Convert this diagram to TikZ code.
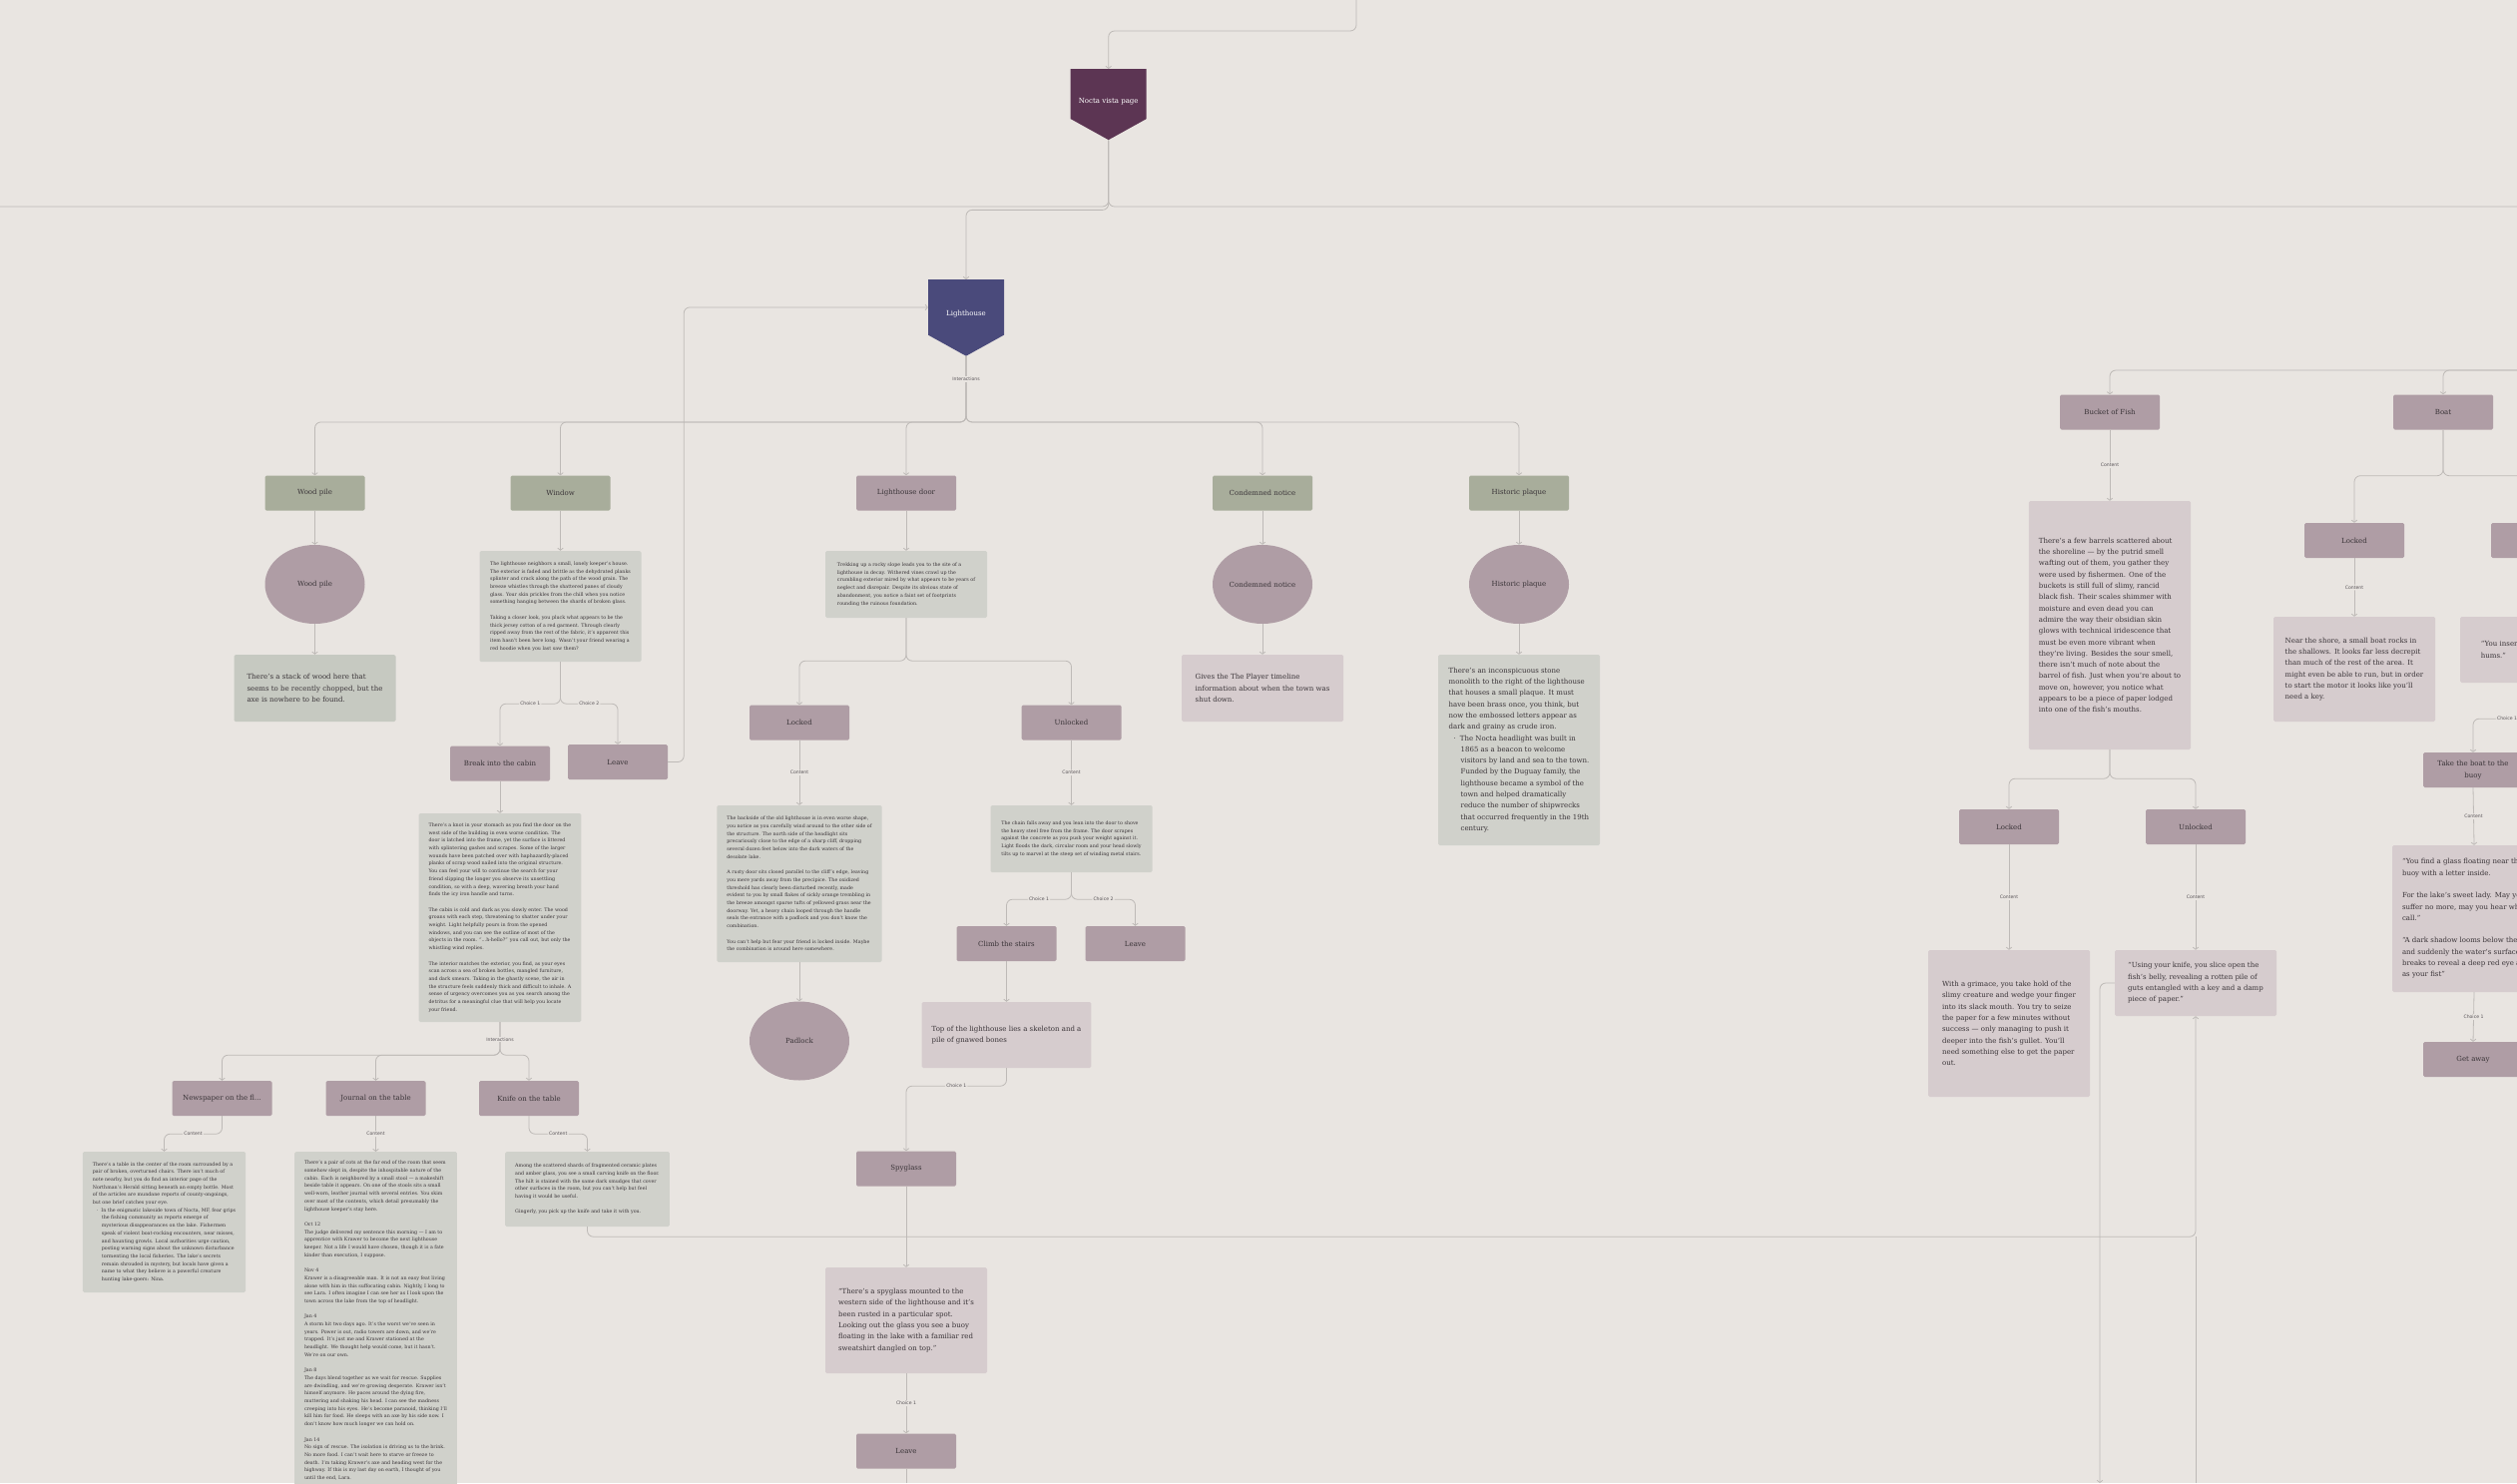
\documentclass[tikz,border=0pt]{standalone}
\usepackage{fontspec}
\setmainfont{DejaVu Serif}
\setsansfont{DejaVu Sans}
\usetikzlibrary{shapes.geometric, shapes.symbols, arrows.meta, positioning, calc}
\definecolor{bgcol}{RGB}{233, 229, 225}
\definecolor{noctacol}{RGB}{92, 53, 83}
\definecolor{lhcol}{RGB}{74, 74, 123}
\definecolor{greencol}{RGB}{168, 173, 155}
\definecolor{mauvecol}{RGB}{175, 157, 165}
\definecolor{graycol}{RGB}{208, 209, 203}
\definecolor{woodcol}{RGB}{198, 201, 193}
\definecolor{pinkcol}{RGB}{214, 204, 206}
\definecolor{linecol}{RGB}{190, 186, 183}
\definecolor{inkcol}{RGB}{58, 52, 56}

\begin{document}
\begin{tikzpicture}[x=100pt, y=-100pt,
  >={Straight Barb[length=2.2pt, width=5.6pt]},
  shield/.style={signal, signal to=south, signal pointer angle=122, fill=#1, text=white,
    minimum width=76pt, minimum height=67pt, inner sep=1pt, anchor=north,
    text height=18pt, text depth=0pt, font=\fontsize{7}{9}\selectfont},
  box/.style={rectangle, rounded corners=1.5pt, fill=#1, minimum width=100pt, minimum height=35pt,
    inner sep=2pt, text=inkcol, align=center, font=\fontsize{7}{11.3}\selectfont},
  blob/.style={ellipse, fill=mauvecol, minimum width=100pt, minimum height=79pt, inner sep=0pt,
    text=inkcol, font=\fontsize{7}{11.3}\selectfont},
  note/.style={rectangle, rounded corners=1.5pt, fill=#1, minimum width=162pt, inner xsep=10pt,
    inner ysep=6pt, align=left, text=inkcol},
  bigtxt/.style={font=\fontsize{7}{11.3}\selectfont},
  smalltxt/.style={font=\fontsize{4.8}{7.7}\selectfont},
  link/.style={draw=linecol, line width=0.8pt, rounded corners=6pt, ->},
  wire/.style={draw=linecol, line width=0.8pt, rounded corners=6pt},
  lbl/.style={fill=bgcol, inner sep=1.2pt, text=inkcol!85, font=\sffamily\fontsize{4.6}{5}\selectfont}]

  % ---- Canvas ----
  \useasboundingbox (0, 0) rectangle (25.22, 14.86);
  \fill[bgcol] (0, 0) rectangle (25.22, 14.86);
  \clip (0, 0) rectangle (25.22, 14.86);

  % ---- Nocta vista page ----
  \coordinate (topin) at (13.59, 0);
  \coordinate (leftout) at (0, 2.07);
  \coordinate (rightout) at (25.22, 2.07);
  \node[shield=noctacol] (nocta) at (11.107, 0.69) {Nocta vista page};
  \node[shield=lhcol] (lighthouse) at (9.68, 2.80) {Lighthouse};
  \draw[link] (topin) -- ++(0, 0.31) -| (nocta.north);
  \draw[wire] (nocta.south) |- (leftout);
  \draw[wire] (nocta.south) |- (rightout);
  \draw[link] (nocta.south) -- ++(0, 0.70) -| (lighthouse.north);

  % ---- Lighthouse interactions ----
  \node[box=greencol] (woodpile) at (3.155, 4.94) {Wood pile};
  \node[box=greencol] (window) at (5.615, 4.94) {Window};
  \node[box=mauvecol] (ldoor) at (9.08, 4.94) {Lighthouse door};
  \node[box=greencol] (condemned) at (12.65, 4.94) {Condemned notice};
  \node[box=greencol] (plaque) at (15.22, 4.94) {Historic plaque};
  \foreach \n in {woodpile, window, ldoor, condemned, plaque}
    \draw[link] (lighthouse.south) -- ++(0, 0.66) -| (\n.north);
  \node[lbl] (lhlbl) at (9.68, 3.80) {Interactions};

  % ---- Wood pile, notice, plaque ----
  \node[blob] (woodell) at (3.155, 5.855) {Wood pile};
  \node[blob] (condell) at (12.65, 5.855) {Condemned notice};
  \node[blob] (plaqueell) at (15.22, 5.855) {Historic plaque};
  \node[note=woodcol, bigtxt, minimum height=67pt] (woodtxt) at (3.155, 6.895)
    {There’s a stack of wood here that\\seems to be recently chopped, but the\\axe is nowhere to be found.};
  \node[note=pinkcol, bigtxt, minimum height=67pt] (condtxt) at (12.65, 6.895)
    {Gives the The Player timeline\\information about when the town was\\shut down.};
  \node[note=graycol, bigtxt, minimum height=191pt] (plaquetxt) at (15.22, 7.515)
    {There’s an inconspicuous stone\\monolith to the right of the lighthouse\\that houses a small plaque. It must\\have been brass once, you think, but\\now the embossed letters appear as\\dark and grainy as crude iron.\\
     \hspace*{5pt}·\hspace*{4pt}The Nocta headlight was built in\\\hspace*{12pt}1865 as a beacon to welcome\\\hspace*{12pt}visitors by land and sea to the town.\\\hspace*{12pt}Funded by the Duguay family, the\\\hspace*{12pt}lighthouse became a symbol of the\\\hspace*{12pt}town and helped dramatically\\\hspace*{12pt}reduce the number of shipwrecks\\\hspace*{12pt}that occurred frequently in the 19th\\\hspace*{12pt}century.};
  \draw[link] (woodpile.south) -- (woodell.north);
  \draw[link] (woodell.south) -- (woodtxt.north);
  \draw[link] (condemned.south) -- (condell.north);
  \draw[link] (condell.south) -- (condtxt.north);
  \draw[link] (plaque.south) -- (plaqueell.north);
  \draw[link] (plaqueell.south) -- (plaquetxt.north);

  % ---- Window ----
  \node[note=graycol, smalltxt, minimum height=111pt] (windowtxt) at (5.615, 6.075)
    {The lighthouse neighbors a small, lonely keeper’s house.\\The exterior is faded and brittle as the dehydrated planks\\splinter and crack along the path of the wood grain. The\\breeze whistles through the shattered panes of cloudy\\glass. Your skin prickles from the chill when you notice\\something hanging between the shards of broken glass.\\[7.7pt]
     Taking a closer look, you pluck what appears to be the\\thick jersey cotton of a red garment. Through clearly\\ripped away from the rest of the fabric, it’s apparent this\\item hasn’t been here long. Wasn’t your friend wearing a\\red hoodie when you last saw them?};
  \node[box=mauvecol] (cabin) at (5.01, 7.65) {Break into the cabin};
  \node[box=mauvecol] (leave1) at (6.19, 7.635) {Leave};
  \draw[link] (window.south) -- (windowtxt.north);
  \draw[link] (windowtxt.south) -- ++(0, 0.42) -| node[lbl, pos=0.25] {Choice 1} (cabin.north);
  \draw[link] (windowtxt.south) -- ++(0, 0.42) -| node[lbl, pos=0.25] {Choice 2} (leave1.north);
  \draw[link] (leave1.east) -- ++(0.16, 0) |- (lighthouse.west);

  % ---- Cabin ----
  \node[note=graycol, smalltxt, minimum height=209pt] (cabintxt) at (5.01, 9.195)
    {There’s a knot in your stomach as you find the door on the\\west side of the building in even worse condition. The\\door is latched into the frame, yet the surface is littered\\with splintering gashes and scrapes. Some of the larger\\wounds have been patched over with haphazardly-placed\\planks of scrap wood nailed into the original structure.\\You can feel your will to continue the search for your\\friend slipping the longer you observe its unsettling\\condition, so with a deep, wavering breath your hand\\finds the icy iron handle and turns.\\[7.7pt]
     The cabin is cold and dark as you slowly enter. The wood\\groans with each step, threatening to shatter under your\\weight. Light helpfully pours in from the opened\\windows, and you can see the outline of most of the\\objects in the room. “...h-hello?” you call out, but only the\\whistling wind replies.\\[7.7pt]
     The interior matches the exterior, you find, as your eyes\\scan across a sea of broken bottles, mangled furniture,\\and dark smears. Taking in the ghastly scene, the air in\\the structure feels suddenly thick and difficult to inhale. A\\sense of urgency overcomes you as you search among the\\detritus for a meaningful clue that will help you locate\\your friend.};
  \draw[link] (cabin.south) -- (cabintxt.north);
  \node[box=mauvecol] (newspaper) at (2.225, 11.005) {Newspaper on the fl...};
  \node[box=mauvecol] (journal) at (3.765, 11.005) {Journal on the table};
  \node[box=mauvecol] (knife) at (5.30, 11.005) {Knife on the table};
  \foreach \n in {newspaper, journal, knife}
    \draw[link] (cabintxt.south) -- ++(0, 0.33) -| (\n.north);
  \node[lbl] (cabinlbl) at (5.01, 10.415) {Interactions};

  \node[note=graycol, smalltxt, minimum height=141pt] (newstxt) at (1.645, 12.245)
    {There’s a table in the center of the room surrounded by a\\pair of broken, overturned chairs. There isn’t much of\\note nearby, but you do find an interior page of the\\Northman’s Herald sitting beneath an empty bottle. Most\\of the articles are mundane reports of county-ongoings,\\but one brief catches your eye.\\
     \hspace*{4pt}·\hspace*{3pt}In the enigmatic lakeside town of Nocta, MF, fear grips\\\hspace*{9pt}the fishing community as reports emerge of\\\hspace*{9pt}mysterious disappearances on the lake. Fishermen\\\hspace*{9pt}speak of violent boat-rocking encounters, near misses,\\\hspace*{9pt}and haunting growls. Local authorities urge caution,\\\hspace*{9pt}posting warning signs about the unknown disturbance\\\hspace*{9pt}tormenting the local fisheries. The lake’s secrets\\\hspace*{9pt}remain shrouded in mystery, but locals have given a\\\hspace*{9pt}name to what they believe is a powerful creature\\\hspace*{9pt}hunting lake-goers: Nina.};
  \node[note=graycol, smalltxt, anchor=north, inner ysep=9pt] (journaltxt) at (3.765, 11.54)
    {There’s a pair of cots at the far end of the room that seem\\somehow slept in, despite the inhospitable nature of the\\cabin. Each is neighbored by a small stool — a makeshift\\beside table it appears. On one of the stools sits a small\\well-worn, leather journal with several entries. You skim\\over most of the contents, which detail presumably the\\lighthouse keeper’s stay here.\\[7.7pt]
     Oct 12\\The judge delivered my sentence this morning — I am to\\apprentice with Krawer to become the next lighthouse\\keeper. Not a life I would have chosen, though it is a fate\\kinder than execution, I suppose.\\[7.7pt]
     Nov 4\\Krawer is a disagreeable man. It is not an easy feat living\\alone with him in this suffocating cabin. Nightly, I long to\\see Lara. I often imagine I can see her as I look upon the\\town across the lake from the top of headlight.\\[7.7pt]
     Jan 4\\A storm hit two days ago. It’s the worst we’ve seen in\\years. Power is out, radio towers are down, and we’re\\trapped. It’s just me and Krawer stationed at the\\headlight. We thought help would come, but it hasn’t.\\We’re on our own.\\[7.7pt]
     Jan 8\\The days blend together as we wait for rescue. Supplies\\are dwindling, and we’re growing desperate. Krawer isn’t\\himself anymore. He paces around the dying fire,\\muttering and shaking his head. I can see the madness\\creeping into his eyes. He’s become paranoid, thinking I’ll\\kill him for food. He sleeps with an axe by his side now. I\\don’t know how much longer we can hold on.\\[7.7pt]
     Jan 14\\No sign of rescue. The isolation is driving us to the brink.\\No more food. I can’t wait here to starve or freeze to\\death. I’m taking Krawer’s axe and heading west for the\\highway. If this is my last day on earth, I thought of you\\until the end, Lara.};
  \node[note=graycol, smalltxt, minimum height=75pt] (knifetxt) at (5.885, 11.915)
    {Among the scattered shards of fragmented ceramic plates\\and amber glass, you see a small carving knife on the floor.\\The hilt is stained with the same dark smudges that cover\\other surfaces in the room, but you can’t help but feel\\having it would be useful.\\[7.7pt]
     Gingerly, you pick up the knife and take it with you.};
  \draw[link] (newspaper.south) -- ++(0, 0.18) -| node[lbl, pos=0.25] {Content} (newstxt.north);
  \draw[link] (journal.south) -- node[lbl] {Content} (journaltxt.north);
  \draw[link] (knife.south) -- ++(0, 0.18) -| node[lbl, pos=0.25] {Content} (knifetxt.north);

  % ---- Lighthouse door ----
  \node[note=graycol, smalltxt, minimum height=67pt] (doortxt) at (9.08, 5.855)
    {Trekking up a rocky slope leads you to the site of a\\lighthouse in decay. Withered vines crawl up the\\crumbling exterior mired by what appears to be years of\\neglect and disrepair. Despite its obvious state of\\abandonment, you notice a faint set of footprints\\rounding the ruinous foundation.};
  \node[box=mauvecol] (locked) at (8.01, 7.24) {Locked};
  \node[box=mauvecol] (unlocked) at (10.735, 7.24) {Unlocked};
  \draw[link] (ldoor.south) -- (doortxt.north);
  \draw[link] (doortxt.south) -- ++(0, 0.43) -| (locked.north);
  \draw[link] (doortxt.south) -- ++(0, 0.43) -| (unlocked.north);
  \node[note=graycol, smalltxt, minimum height=157pt] (locktxt) at (8.01, 8.855)
    {The backside of the old lighthouse is in even worse shape,\\you notice as you carefully wind around to the other side of\\the structure. The north side of the headlight sits\\precariously close to the edge of a sharp cliff, dropping\\several dozen feet below into the dark waters of the\\desolate lake.\\[7.7pt]
     A rusty door sits closed parallel to the cliff’s edge, leaving\\you mere yards away from the precipice. The oxidized\\threshold has clearly been disturbed recently, made\\evident to you by small flakes of sickly orange trembling in\\the breeze amongst sparse tufts of yellowed grass near the\\doorway. Yet, a heavy chain looped through the handle\\seals the entrance with a padlock and you don’t know the\\combination.\\[7.7pt]
     You can’t help but fear your friend is locked inside. Maybe\\the combination is around here somewhere.};
  \node[note=graycol, smalltxt, minimum height=67pt] (unlocktxt) at (10.735, 8.405)
    {The chain falls away and you lean into the door to shove\\the heavy steel free from the frame. The door scrapes\\against the concrete as you push your weight against it.\\Light floods the dark, circular room and your head slowly\\tilts up to marvel at the steep set of winding metal stairs.};
  \draw[link] (locked.south) -- node[lbl] {Content} (locktxt.north);
  \draw[link] (unlocked.south) -- node[lbl] {Content} (unlocktxt.north);
  \node[blob] (padlock) at (8.01, 10.43) {Padlock};
  \draw[link] (locktxt.south) -- (padlock.north);

  \node[box=mauvecol] (climb) at (10.085, 9.455) {Climb the stairs};
  \node[box=mauvecol] (leave2) at (11.375, 9.455) {Leave};
  \draw[link] (unlocktxt.south) -- ++(0, 0.27) -| node[lbl, pos=0.25] {Choice 1} (climb.north);
  \draw[link] (unlocktxt.south) -- ++(0, 0.27) -| node[lbl, pos=0.25] {Choice 2} (leave2.north);
  \node[note=pinkcol, bigtxt, minimum height=66pt] (toptxt) at (10.085, 10.37)
    {Top of the lighthouse lies a skeleton and a\\pile of gnawed bones};
  \draw[link] (climb.south) -- (toptxt.north);

  % ---- Spyglass ----
  \node[box=mauvecol] (spyglass) at (9.08, 11.71) {Spyglass};
  \node[note=pinkcol, bigtxt, minimum height=106pt] (spytxt) at (9.08, 13.23)
    {“There’s a spyglass mounted to the\\western side of the lighthouse and it’s\\been rusted in a particular spot.\\Looking out the glass you see a buoy\\floating in the lake with a familiar red\\sweatshirt dangled on top.”};
  \node[box=mauvecol] (leave3) at (9.08, 14.54) {Leave};
  \coordinate (out3) at (9.08, 14.86);
  \draw[link] (toptxt.south) -- ++(0, 0.18) -| node[lbl, pos=0.25] {Choice 1} (spyglass.north);

  % ---- Bucket of fish ----
  \coordinate (rin) at (25.22, 3.71);
  \node[box=mauvecol] (fish) at (21.14, 4.13) {Bucket of Fish};
  \node[box=mauvecol] (boat) at (24.48, 4.13) {Boat};
  \draw[link] (rin) -| (fish.north);
  \draw[link] (rin) -| (boat.north);
  \node[note=pinkcol, bigtxt, minimum height=249pt] (fishtxt) at (21.14, 6.265)
    {There’s a few barrels scattered about\\the shoreline — by the putrid smell\\wafting out of them, you gather they\\were used by fishermen. One of the\\buckets is still full of slimy, rancid\\black fish. Their scales shimmer with\\moisture and even dead you can\\admire the way their obsidian skin\\glows with technical iridescence that\\must be even more vibrant when\\they’re living. Besides the sour smell,\\there isn’t much of note about the\\barrel of fish. Just when you’re about to\\move on, however, you notice what\\appears to be a piece of paper lodged\\into one of the fish’s mouths.};
  \draw[link] (fish.south) -- node[lbl] {Content} (fishtxt.north);
  \node[box=mauvecol] (fishlocked) at (20.13, 8.285) {Locked};
  \node[box=mauvecol] (fishunlocked) at (22.00, 8.285) {Unlocked};
  \draw[link] (fishtxt.south) -- ++(0, 0.29) -| (fishlocked.north);
  \draw[link] (fishtxt.south) -- ++(0, 0.29) -| (fishunlocked.north);
  \node[note=pinkcol, bigtxt, minimum height=147pt] (fishlocktxt) at (20.13, 10.255)
    {With a grimace, you take hold of the\\slimy creature and wedge your finger\\into its slack mouth. You try to seize\\the paper for a few minutes without\\success — only managing to push it\\deeper into the fish’s gullet. You’ll\\need something else to get the paper\\out.};
  \node[note=pinkcol, bigtxt, minimum height=66pt] (fishunlocktxt) at (22.00, 9.85)
    {“Using your knife, you slice open the\\fish’s belly, revealing a rotten pile of\\guts entangled with a key and a damp\\piece of paper.”};
  \draw[link] (fishlocked.south) -- node[lbl] {Content} (fishlocktxt.north);
  \draw[link] (fishunlocked.south) -- node[lbl] {Content} (fishunlocktxt.north);
  \coordinate (out5) at (21.04, 14.86);
  \coordinate (out6) at (22.00, 14.86);
  \coordinate (knifejoin) at (22.00, 12.39);
  \draw[link] (fishunlocktxt.west) -| (out5);
  \draw[wire] (out6) -- (knifejoin);
  \draw[link] (knifetxt.south) -- ++(0, 0.10) -| (fishunlocktxt.south);
  \draw[link] (spyglass.south) -- (spytxt.north);
  \draw[link] (spytxt.south) -- node[lbl] {Choice 1} (leave3.north);
  \draw[wire] (leave3.south) -- (out3);

  % ---- Boat ----
  \node[box=mauvecol] (boatlocked) at (23.59, 5.415) {Locked};
  \node[box=mauvecol] (boatunlocked) at (25.46, 5.415) {};
  \draw[link] (boat.south) -- ++(0, 0.46) -| (boatlocked.north);
  \draw[link] (boat.south) -- ++(0, 0.46) -| (boatunlocked.north);
  \node[note=pinkcol, bigtxt, minimum height=105pt] (boatlocktxt) at (23.59, 6.705)
    {Near the shore, a small boat rocks in\\the shallows. It looks far less decrepit\\than much of the rest of the area. It\\might even be able to run, but in order\\to start the motor it looks like you’ll\\need a key.};
  \node[note=pinkcol, bigtxt, minimum height=66pt] (boatunlocktxt) at (25.46, 6.51)
    {“You insert the key and the motor\\hums.”};
  \draw[link] (boatlocked.south) -- node[lbl] {Content} (boatlocktxt.north);
  \draw[link] (boatunlocked.south) -- (boatunlocktxt.north);
  \node[box=mauvecol] (takeboat) at (24.78, 7.715) {Take the boat to the\\buoy};
  \draw[link] (boatunlocktxt.south) -- ++(0, 0.36) -| node[lbl, pos=0.25] {Choice 1} (takeboat.north);
  \node[note=pinkcol, bigtxt, minimum height=147pt] (buoytxt) at (24.79, 9.205)
    {“You find a glass floating near the\\buoy with a letter inside.\\[11.3pt]
     For the lake’s sweet lady. May you\\suffer no more, may you hear when I\\call.”\\[11.3pt]
     “A dark shadow looms below the surface\\and suddenly the water’s surface\\breaks to reveal a deep red eye as large\\as your fist”};
  \node[box=mauvecol] (getaway) at (24.78, 10.615) {Get away};
  \draw[link] (takeboat.south) -- node[lbl] {Content} (buoytxt.north);
  \draw[link] (buoytxt.south) -- node[lbl] {Choice 1} (getaway.north);
\end{tikzpicture}
\end{document}
